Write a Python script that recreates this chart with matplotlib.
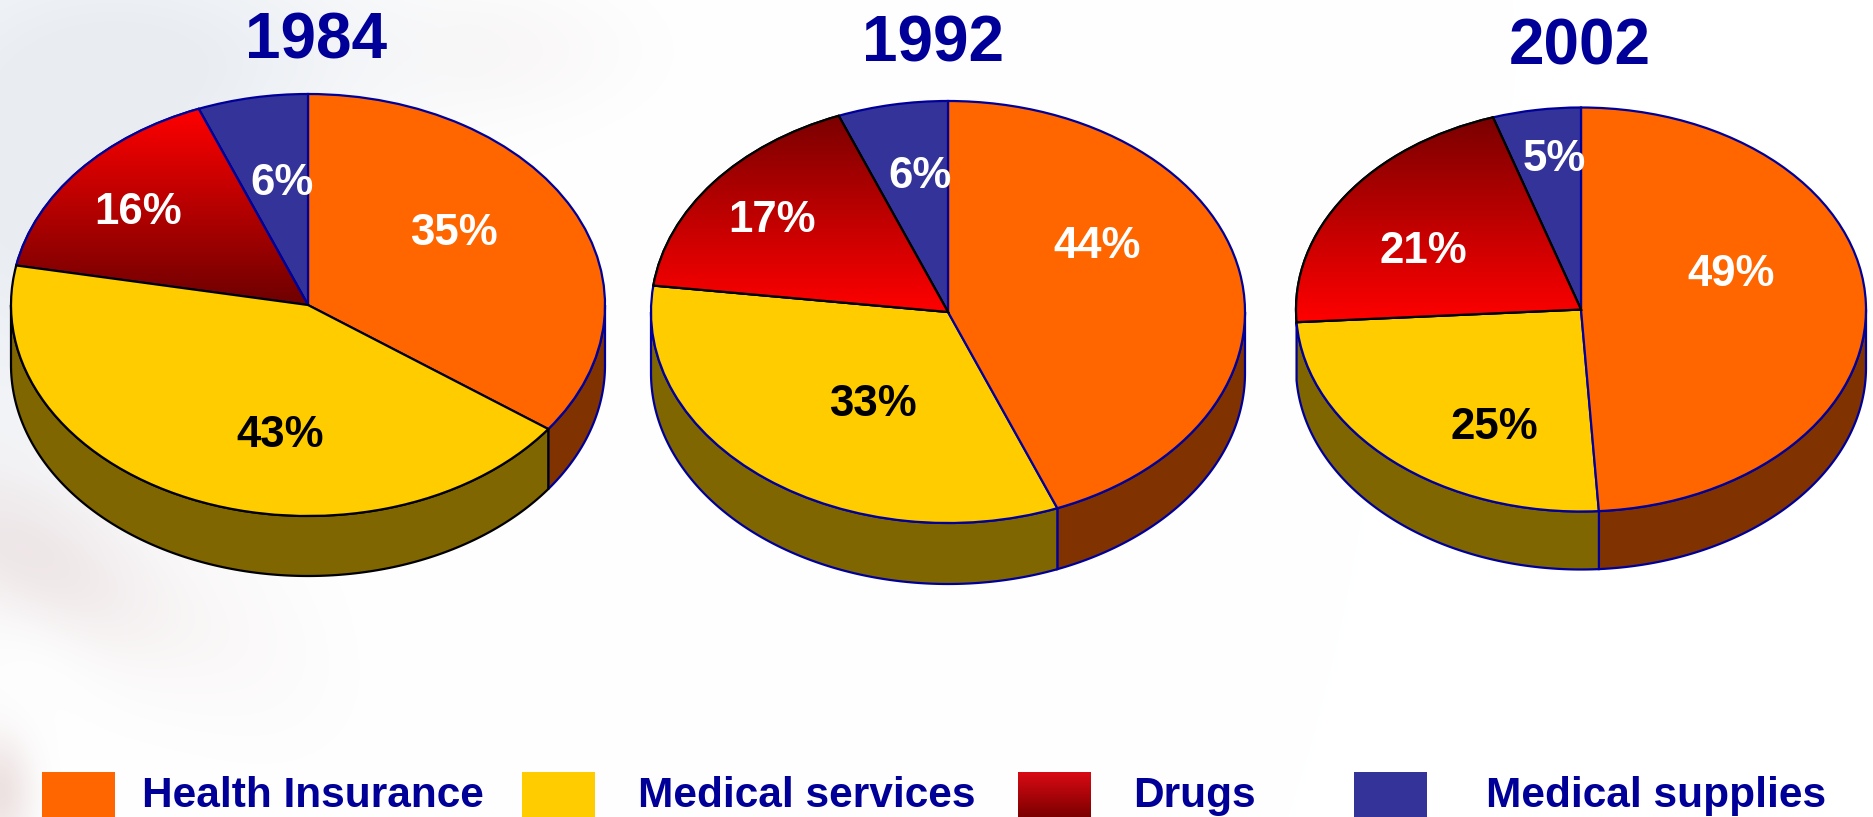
import numpy as np
import matplotlib
matplotlib.use("Agg")
import matplotlib.pyplot as plt
from matplotlib.colors import LinearSegmentedColormap
from matplotlib.patches import Rectangle, PathPatch

plt.rcParams['font.family'] = ['Liberation Sans', 'DejaVu Sans']

# ---- data ----
years = ['1984', '1992', '2002']
categories = ['Health Insurance', 'Medical services', 'Drugs', 'Medical supplies']
health = [35, 44, 49]
services = [43, 33, 25]
drugs = [16, 17, 21]
supplies = [6, 6, 5]

# ---- style ----
W, H = 1873, 817
NAVY = '#000099'
ORANGE, YELLOW, BLUE = '#FF6600', '#FFCC00', '#333399'
WALL_ORANGE, WALL_YELLOW = '#803300', '#806600'

geom = [(308, 305, 297, 211, 60), (948, 312, 297, 211, 61), (1581, 309.5, 285, 202, 58)]
title_pos = [(316, 41), (933, 44), (1580, 47)]
label_pos = [
    [(454, 233), (280, 435), (138, 212), (282, 183)],
    [(1097, 246), (873, 404), (772, 220), (920, 176)],
    [(1731, 274), (1494, 427), (1423, 251), (1554, 159)],
]
label_cols = ['white', 'black', 'white', 'white']
# outline colours: wedge order health, services, drugs, supplies
edge_cols = [
    [NAVY, 'black', NAVY, NAVY],
    [NAVY, NAVY, 'black', NAVY],
    [NAVY, NAVY, 'black', NAVY],
]
wall_edge = [('black', NAVY), (NAVY, NAVY), (NAVY, NAVY)]
grad = [('#FF0000', '#6E0000'), ('#7A0000', '#FF0000'), ('#7A0000', '#FF0000')]

fig = plt.figure(figsize=(W / 100, H / 100), dpi=100, facecolor='white')

# faint flag backdrop
bg = fig.add_axes([0, 0, 1, 1], zorder=0)
yy, xx = np.mgrid[0:H, 0:W]
def blob(x0, y0, sx, sy, rot=0.0):
    c, s = np.cos(rot), np.sin(rot)
    u = (xx - x0) * c + (yy - y0) * s
    v = -(xx - x0) * s + (yy - y0) * c
    return np.exp(-(u / sx) ** 2 - (v / sy) ** 2)
gray = np.clip(1.0 * blob(30, 200, 230, 280) + 0.55 * blob(230, 50, 220, 110), 0, 1)
pink = np.clip(0.65 * blob(30, 560, 150, 75, 0.5) + 0.9 * blob(0, 790, 32, 60)
               + 0.12 * blob(240, 640, 110, 80, 0.8) + 0.18 * blob(520, 50, 110, 60), 0, 1)
hole = blob(40, 680, 90, 50, 0.6)
pink = pink * (1 - 0.9 * hole)
img = np.ones((H, W, 3))
for i, (a, b) in enumerate(zip((0.085, 0.07, 0.05), (0.075, 0.125, 0.125))):
    img[..., i] = 1 - a * gray - b * pink
bg.imshow(np.clip(img, 0, 1), extent=(0, W, H, 0), aspect='auto', interpolation='bilinear')
bg.set_axis_off()

# pies
for i, year in enumerate(years):
    shares = [health[i], services[i], drugs[i], supplies[i]]
    cx, cy, rx, ry, depth = geom[i]
    ax = fig.add_axes([(cx - rx - 6) / W, 1 - (cy + ry + depth + 6) / H,
                       (2 * rx + 12) / W, (2 * ry + depth + 12) / H], zorder=2)
    ax.patch.set_alpha(0)
    xlim = (-1 - 6 / rx, 1 + 6 / rx)
    ylim = (-1 - (depth + 6) / ry, 1 + 6 / ry)
    d = depth / ry

    # side wall from the cumulative shares (clockwise from 12 o'clock)
    bounds = np.cumsum([0] + shares) / sum(shares) * 2 * np.pi
    for k, (col, ec) in enumerate(zip((WALL_ORANGE, WALL_YELLOW), (wall_edge[i][1], wall_edge[i][0]))):
        t = np.linspace(max(bounds[k], np.pi / 2), min(bounds[k + 1], 3 * np.pi / 2), 200)
        px, py = np.sin(t), np.cos(t)
        ax.fill(np.r_[px, px[::-1]], np.r_[py, py[::-1] - d], fc=col, ec=ec, lw=1.6, zorder=1)

    wedges, _ = ax.pie(shares, radius=1, startangle=90, counterclock=False,
                       colors=[ORANGE, YELLOW, '#FF0000', BLUE],
                       wedgeprops=dict(linewidth=1.6))
    draw_order = [0, 3, 2, 1] if i == 0 else [1, 0, 3, 2]
    for rank, k in enumerate(draw_order):
        wedges[k].set_edgecolor(edge_cols[i][k])
        wedges[k].set_zorder(3 + rank * 0.1)

    # gradient on the Drugs wedge
    cmap = LinearSegmentedColormap.from_list('d', [grad[i][0], grad[i][1]])
    th = np.linspace(bounds[2], bounds[3], 100)
    ys = np.r_[np.cos(th), 0]
    top, bot = ys.max(), ys.min()
    im = ax.imshow(np.linspace(0, 1, 256).reshape(-1, 1), cmap=cmap, aspect='auto',
                   extent=(-1, 1, bot, top), zorder=wedges[2].get_zorder() + 0.01)
    im.set_clip_path(wedges[2])
    ax.add_patch(PathPatch(wedges[2].get_path(), transform=wedges[2].get_transform(),
                           fc='none', ec=edge_cols[i][2], lw=1.6,
                           zorder=wedges[2].get_zorder() + 0.02))
    ax.set_aspect('auto')
    ax.set_xlim(*xlim)
    ax.set_ylim(*ylim)
    ax.set_axis_off()

# texts and legend in a pixel-space overlay
ov = fig.add_axes([0, 0, 1, 1], zorder=5)
ov.set_axis_off()
ov.patch.set_alpha(0)

for i, year in enumerate(years):
    ov.text(*title_pos[i], year, color=NAVY, fontsize=46, fontweight='bold', ha='center', va='center')
    shares = [health[i], services[i], drugs[i], supplies[i]]
    for (x, y), v, c in zip(label_pos[i], shares, label_cols):
        ov.text(x, y, f'{v}%', color=c, fontsize=31.5, fontweight='bold', ha='center', va='center')

swatches = [(42, ORANGE), (522, YELLOW), (1018, None), (1354, BLUE)]
text_x = [142, 638, 1133, 1486]
sw_w = 73
for (sx, col), tx, name in zip(swatches, text_x, categories):
    if col is None:
        cmap = LinearSegmentedColormap.from_list('l', ['#D80A14', '#7C0000'])
        ov.imshow(np.linspace(0, 1, 64).reshape(-1, 1), cmap=cmap, aspect='auto',
                  extent=(sx, sx + sw_w, 817, 772), zorder=2)
    else:
        ov.add_patch(Rectangle((sx, 772), sw_w, 45, fc=col, ec='none', zorder=2))
    ov.text(tx, 807, name, color=NAVY, fontsize=30.5, fontweight='bold', ha='left', va='baseline')
ov.set_xlim(0, W)
ov.set_ylim(H, 0)

fig.savefig('out.png', dpi=100)
